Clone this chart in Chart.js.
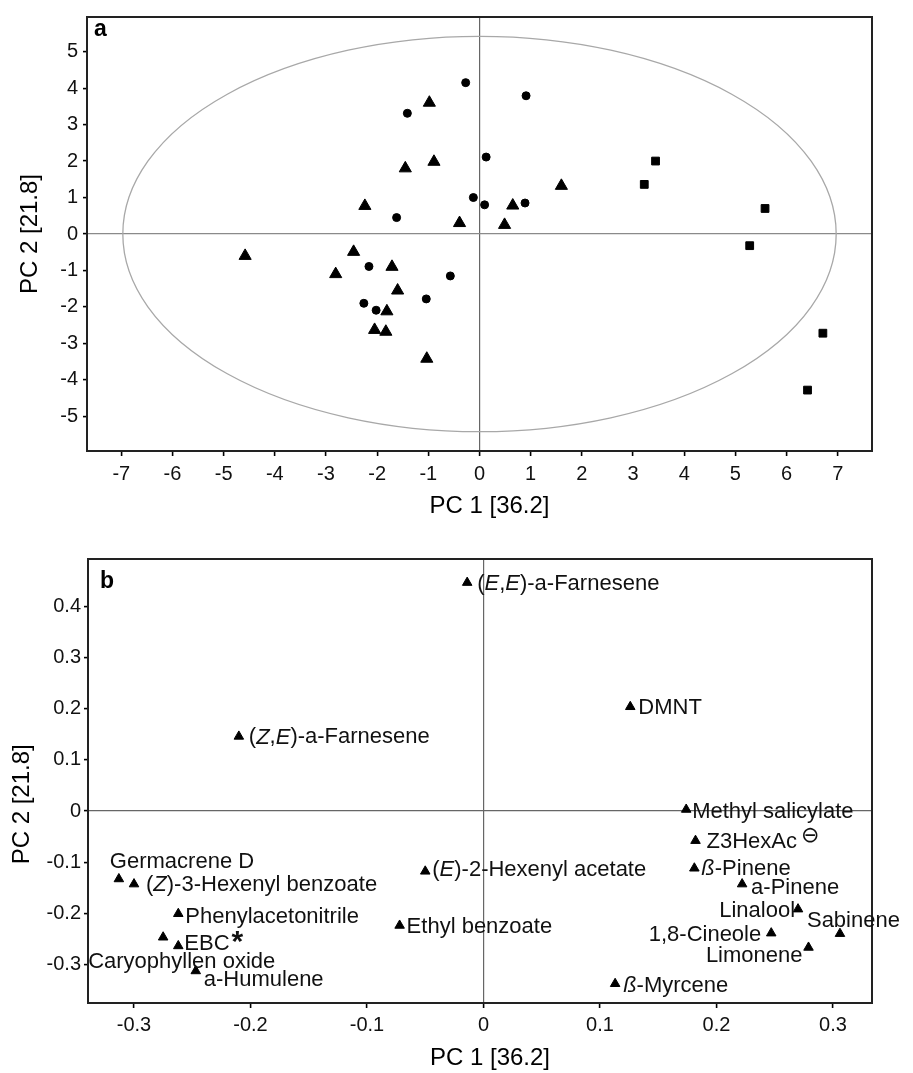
<!DOCTYPE html>
<html>
<head>
<meta charset="utf-8">
<script src="https://cdn.jsdelivr.net/npm/chart.js@4.4.1/dist/chart.umd.min.js"></script>
<style>
  html, body { margin: 0; padding: 0; background: #fff; }
  #wrap { position: relative; width: 913px; height: 1073px; }
  canvas { position: absolute; left: 0; }
  #chartA { top: 0; }
  #chartB { top: 535px; }
</style>
</head>
<body>
<div id="wrap">
  <canvas id="chartA" width="913" height="535"></canvas>
  <canvas id="chartB" width="913" height="538"></canvas>
</div>
<script>
// ---- (a) Score plot: PC1 / PC2 der Proben, nach Markertyp ----
const circleX = [-1.41, -1.62, -2.16, -0.57, -2.26, -2.02, -1.04, -0.27, 0.91, 0.13, -0.12, 0.10, 0.89]
const circleY = [3.31, 0.45, -0.89, -1.15, -1.90, -2.09, -1.78, 4.15, 3.79, 2.11, 1.00, 0.80, 0.85]

const triangleX = [-0.98, -0.89, -1.45, -2.24, -0.39, -4.58, -2.46, -2.81, -1.71, -1.60, -1.81, -2.05, -1.83, -1.03, 1.60, 0.65, 0.49]
const triangleY = [3.60, 1.98, 1.80, 0.77, 0.30, -0.60, -0.49, -1.10, -0.90, -1.55, -2.12, -2.63, -2.68, -3.42, 1.32, 0.78, 0.25]

const squareX = [3.44, 3.22, 5.58, 5.28, 6.71, 6.41]
const squareY = [2.00, 1.36, 0.70, -0.32, -2.72, -4.28]

const ticksAX = [-7, -6, -5, -4, -3, -2, -1, 0, 1, 2, 3, 4, 5, 6, 7]
const ticksAY = [-5, -4, -3, -2, -1, 0, 1, 2, 3, 4, 5]

// Konfidenz-Ellipse (Halbachsen in PC-Einheiten)
const ellipseRadiusX = 6.97
const ellipseRadiusY = 5.42

// ---- (b) Loadings plot ----
// _x_ = kursiv, ^x = hochgestellt
const loadingNames = ['(_E_,_E_)-a-Farnesene', 'DMNT', '(_Z_,_E_)-a-Farnesene', 'Germacrene D',
  '(_Z_)-3-Hexenyl benzoate', 'Phenylacetonitrile', 'Caryophyllen oxide', 'EBC^*', 'a-Humulene',
  '(_E_)-2-Hexenyl acetate', 'Ethyl benzoate', 'Methyl salicylate', 'Z3HexAc^⊖', '_ß_-Pinene',
  'a-Pinene', 'Linalool', 'Sabinene', '1,8-Cineole', 'Limonene', '_ß_-Myrcene']
const loadingPC1 = [-0.014, 0.126, -0.210, -0.313, -0.300, -0.262, -0.275, -0.262, -0.247,
  -0.050, -0.072, 0.174, 0.182, 0.181, 0.222, 0.270, 0.306, 0.247, 0.279, 0.113]
const loadingPC2 = [0.447, 0.204, 0.146, -0.133, -0.143, -0.201, -0.247, -0.264, -0.313,
  -0.118, -0.224, 0.003, -0.058, -0.112, -0.143, -0.192, -0.240, -0.239, -0.267, -0.338]

const ticksBX = [-0.3, -0.2, -0.1, 0, 0.1, 0.2, 0.3]
const ticksBY = [-0.3, -0.2, -0.1, 0, 0.1, 0.2, 0.3, 0.4]

// Beschriftungs-Versatz in Pixel: [dx, dy, Ausrichtung]
const labelPlacement = {
  '(_E_,_E_)-a-Farnesene': [10, 1, 'left'],
  'DMNT': [8, 1, 'left'],
  '(_Z_,_E_)-a-Farnesene': [10, 1, 'left'],
  'Germacrene D': [-9, -17, 'left'],
  '(_Z_)-3-Hexenyl benzoate': [12, 1, 'left'],
  'Phenylacetonitrile': [7, 3, 'left'],
  'Caryophyllen oxide': [-75, 25, 'left'],
  'EBC^*': [6, -2, 'left'],
  'a-Humulene': [8, 9, 'left'],
  '(_E_)-2-Hexenyl acetate': [7, -1, 'left'],
  'Ethyl benzoate': [7, 1, 'left'],
  'Methyl salicylate': [6, 2, 'left'],
  'Z3HexAc^⊖': [11, 1, 'left'],
  '_ß_-Pinene': [7, 1, 'left'],
  'a-Pinene': [9, 4, 'left'],
  'Linalool': [-3, 2, 'right'],
  'Sabinene': [-33, -13, 'left'],
  '1,8-Cineole': [-10, 2, 'right'],
  'Limonene': [-6, 8, 'right'],
  '_ß_-Myrcene': [8, 2, 'left']
}

const FONT = '"Liberation Sans", Arial, "DejaVu Sans", sans-serif'
const supStyle = {
  '*': { font: 'bold 30px ' + FONT, gap: 2, dy: -1 },
  '⊖': { font: '22px "DejaVu Sans", ' + FONT, gap: 4, dy: -5 }
}

Chart.defaults.font.family = FONT
Chart.defaults.color = '#000'

// Rahmen, Ellipse, Panel-Buchstabe und Beschriftungen
const decorPlugin = {
  id: 'decor',
  beforeDatasetsDraw(chart, args, opts) {
    if (!opts.ellipse) return
    const { ctx, scales: { x, y } } = chart
    const cx = x.getPixelForValue(0)
    const cy = y.getPixelForValue(0)
    const rx = x.getPixelForValue(opts.ellipse[0]) - cx
    const ry = cy - y.getPixelForValue(opts.ellipse[1])
    ctx.save()
    ctx.strokeStyle = '#a8a8a8'
    ctx.lineWidth = 1.3
    ctx.beginPath()
    ctx.ellipse(cx, cy, rx, ry, 0, 0, Math.PI * 2)
    ctx.stroke()
    ctx.restore()
  },
  afterDraw(chart, args, opts) {
    const { ctx, chartArea: a } = chart
    ctx.save()
    ctx.strokeStyle = '#222'
    ctx.lineWidth = 2
    ctx.strokeRect(a.left, a.top, a.right - a.left, a.bottom - a.top)
    ctx.fillStyle = '#000'
    ctx.font = 'bold 23px ' + FONT
    ctx.textAlign = 'left'
    ctx.textBaseline = 'middle'
    ctx.fillText(opts.panel, a.left + opts.panelPos[0], a.top + opts.panelPos[1])
    if (opts.labels) {
      chart.getDatasetMeta(0).data.forEach((pt, i) => {
        const name = loadingNames[i]
        const [dx, dy, align] = labelPlacement[name]
        drawRichText(ctx, name, pt.x + dx, pt.y + dy, align)
      })
    }
    ctx.restore()
  }
}

function drawRichText(ctx, text, x, y, align) {
  const [main, sup] = text.split('^')
  const parts = main.split('_').map((t, i) => ({ t, italic: i % 2 === 1 }))
  const fontFor = p => (p.italic ? 'italic ' : '') + '22px ' + FONT
  let w = 0
  parts.forEach(p => { ctx.font = fontFor(p); p.w = ctx.measureText(p.t).width; w += p.w })
  let supW = 0
  if (sup) {
    ctx.font = supStyle[sup].font
    supW = supStyle[sup].gap + ctx.measureText(sup).width
  }
  let cx = align === 'right' ? x - w - supW : x
  ctx.fillStyle = '#111'
  ctx.textAlign = 'left'
  ctx.textBaseline = 'middle'
  parts.forEach(p => { ctx.font = fontFor(p); ctx.fillText(p.t, cx, y); cx += p.w })
  if (sup) {
    ctx.font = supStyle[sup].font
    ctx.fillText(sup, cx + supStyle[sup].gap, y + supStyle[sup].dy)
  }
}

const toPoints = (xs, ys) => xs.map((v, i) => ({ x: v, y: ys[i] }))
const fmt = v => String(Math.round(v * 10) / 10)

function axis(o) {
  return {
    type: 'linear',
    position: o.position,
    min: o.min,
    max: o.max,
    afterBuildTicks: s => { s.ticks = o.ticks.map(v => ({ value: v })) },
    afterFit: s => { if (o.position === 'left') s.width = o.size; else s.height = o.size },
    border: { color: '#000', width: 2 },
    grid: {
      color: c => (c.tick && c.tick.value === 0 ? o.zeroColor : 'transparent'),
      lineWidth: 1.2,
      tickColor: '#000',
      tickWidth: 1.6,
      tickLength: o.tickLength
    },
    ticks: {
      autoSkip: false,
      maxRotation: 0,
      padding: o.tickPadding,
      color: '#111',
      font: { size: 20 },
      callback: o.format || (v => String(v))
    },
    title: {
      display: true,
      text: o.title,
      color: '#000',
      font: { size: 24 },
      padding: o.titlePadding
    }
  }
}

const baseOptions = {
  responsive: false,
  animation: false,
  events: [],
  plugins: { legend: { display: false }, tooltip: { enabled: false } }
}

new Chart(document.getElementById('chartA'), {
  type: 'scatter',
  data: {
    datasets: [
      { data: toPoints(circleX, circleY), pointStyle: 'circle', pointRadius: 4, backgroundColor: '#000', borderColor: '#000', borderWidth: 1 },
      { data: toPoints(triangleX, triangleY), pointStyle: 'triangle', pointRadius: 7, backgroundColor: '#000', borderColor: '#000', borderWidth: 1 },
      { data: toPoints(squareX, squareY), pointStyle: 'rect', pointRadius: 5.5, backgroundColor: '#000', borderColor: '#000', borderWidth: 1 }
    ]
  },
  options: {
    ...baseOptions,
    layout: { padding: { top: 11, right: 41, left: 0, bottom: 0 } },
    plugins: {
      ...baseOptions.plugins,
      decor: { ellipse: [ellipseRadiusX, ellipseRadiusY], panel: 'a', panelPos: [7, 13] }
    },
    scales: {
      x: axis({ position: 'bottom', min: -7.67, max: 7.67, ticks: ticksAX, size: 84, zeroColor: '#666',
        tickLength: 5, tickPadding: 6, title: '   PC 1 [36.2]', titlePadding: { bottom: 14 } }),
      y: axis({ position: 'left', min: -5.95, max: 5.95, ticks: ticksAY, size: 87, zeroColor: '#8a8a8a',
        tickLength: 4, tickPadding: 5, title: 'PC 2 [21.8]', titlePadding: { top: 16 } })
    }
  },
  plugins: [decorPlugin]
})

new Chart(document.getElementById('chartB'), {
  type: 'scatter',
  data: {
    datasets: [
      { data: toPoints(loadingPC1, loadingPC2), pointStyle: 'triangle', pointRadius: 5.5, backgroundColor: '#000', borderColor: '#000', borderWidth: 1 }
    ]
  },
  options: {
    ...baseOptions,
    layout: { padding: { top: 24, right: 41, left: 0, bottom: 0 } },
    plugins: {
      ...baseOptions.plugins,
      decor: { panel: 'b', panelPos: [12, 23], labels: true }
    },
    scales: {
      x: axis({ position: 'bottom', min: -0.3395, max: 0.3335, ticks: ticksBX, size: 70, zeroColor: '#666',
        tickLength: 5, tickPadding: 5, format: fmt, title: '   PC 1 [36.2]', titlePadding: { bottom: 0 } }),
      y: axis({ position: 'left', min: -0.3757, max: 0.4932, ticks: ticksBY, size: 88, zeroColor: '#666',
        tickLength: 4, tickPadding: 3, format: fmt, title: 'PC 2 [21.8]       ', titlePadding: { top: 8 } })
    }
  },
  plugins: [decorPlugin]
})
</script>
</body>
</html>
